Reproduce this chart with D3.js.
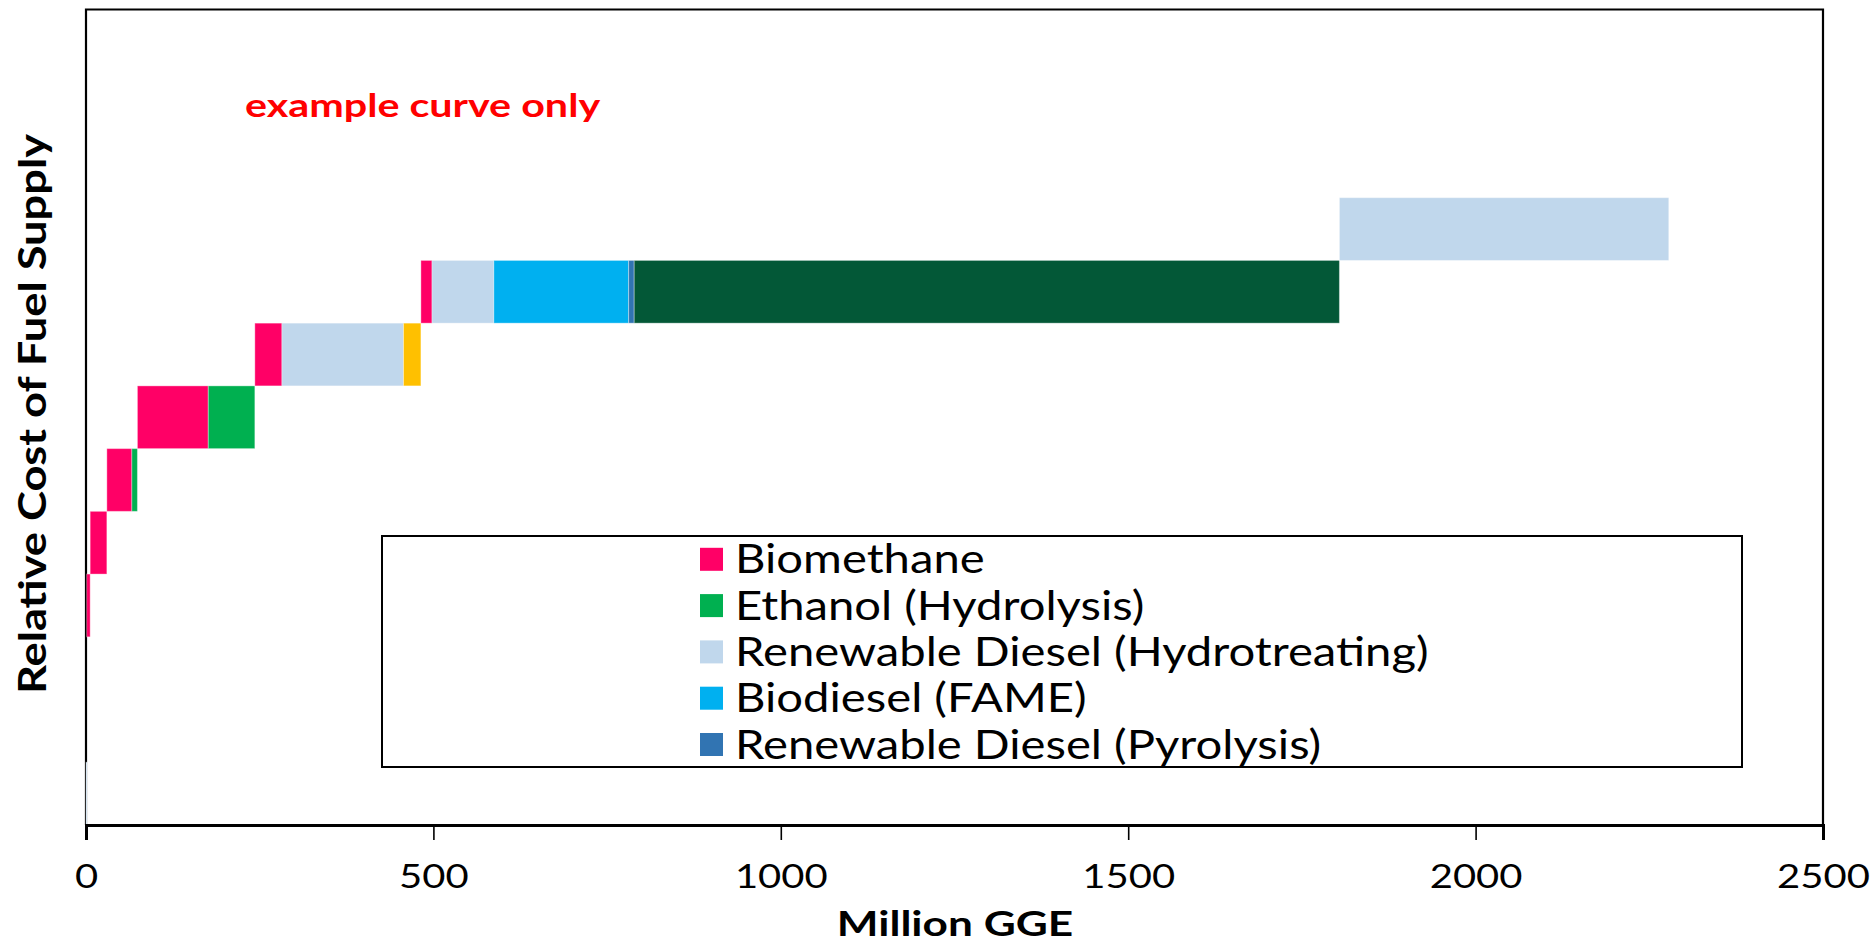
<!DOCTYPE html>
<html>
<head>
<meta charset="utf-8">
<script src="https://cdn.jsdelivr.net/npm/d3@7"></script>
<style>
  html, body { margin: 0; padding: 0; background: #fff; }
  svg { display: block; font-family: Lato, "Open Sans", sans-serif; }
</style>
</head>
<body>
<svg id="chart" width="1876" height="944"></svg>
<script>
// Supply curve segments, in merit order (left to right).
const segmentFuel = [
  "rdHydro", "biomethane", "biomethane", "biomethane", "ethanol",
  "biomethane", "ethanol", "biomethane", "rdHydro", "other1",
  "biomethane", "rdHydro", "biodiesel", "rdPyro", "other2", "rdHydro"
];
// Volume of each segment, million GGE
const segmentVolume = [1, 5, 24, 36, 8, 102, 67, 39, 175, 25, 16, 89, 194, 8, 1015, 474];
// Relative cost step of each segment (bar spans one step above this level)
const segmentCost = [0, 3, 4, 5, 5, 6, 6, 7, 7, 7, 8, 8, 8, 8, 8, 9];

const fuelKeys = ["biomethane", "ethanol", "rdHydro", "biodiesel", "rdPyro", "other1", "other2"];
const fuelColors = ["#FF0066", "#00B050", "#C0D7EC", "#00B0F0", "#3174B2", "#FFC000", "#035837"];

const legendKeys = ["biomethane", "ethanol", "rdHydro", "biodiesel", "rdPyro"];
const legendLabels = [
  "Biomethane",
  "Ethanol (Hydrolysis)",
  "Renewable Diesel (Hydrotreating)",
  "Biodiesel (FAME)",
  "Renewable Diesel (Pyrolysis)"
];

const xTicks = [0, 500, 1000, 1500, 2000, 2500];

// Cumulative positions along the volume axis
let acc = 0;
const segments = segmentVolume.map((v, i) => {
  const s = { fuel: segmentFuel[i], x0: acc, x1: acc + v, cost: segmentCost[i] };
  acc += v;
  return s;
});

const svg = d3.select("#chart");
const plotLeft = 86, plotRight = 1823, plotTop = 9.5, plotBottom = 825;

const x = d3.scaleLinear().domain([0, 2500]).range([plotLeft, plotRight]);
const y = d3.scaleLinear().domain([0, 13]).range([plotBottom, plotTop]);
const color = d3.scaleOrdinal().domain(fuelKeys).range(fuelColors);

// Widen text horizontally (wide geometric face look)
function widen(sel, factor) {
  sel.each(function () {
    const w = this.getComputedTextLength();
    d3.select(this)
      .attr("textLength", w * factor)
      .attr("lengthAdjust", "spacingAndGlyphs");
  });
}

// Plot frame (top, left, right)
svg.append("path")
  .attr("d", `M${plotLeft},${plotBottom} V${plotTop} H${plotRight} V${plotBottom}`)
  .attr("fill", "none")
  .attr("stroke", "#000")
  .attr("stroke-width", 2.2);

// Bars
svg.append("g").selectAll("rect")
  .data(segments)
  .join("rect")
  .attr("x", d => x(d.x0))
  .attr("width", d => Math.max(1, x(d.x1) - x(d.x0)))
  .attr("y", d => y(d.cost + 1))
  .attr("height", d => y(d.cost) - y(d.cost + 1))
  .attr("fill", d => color(d.fuel))
  .attr("stroke", "rgba(255,255,255,0.35)")
  .attr("stroke-width", 1);

// X axis
const xAxis = svg.append("g")
  .attr("transform", `translate(0,${plotBottom})`)
  .call(d3.axisBottom(x).tickValues(xTicks).tickSize(15).tickPadding(25).tickFormat(d3.format("d")));
xAxis.select(".domain").attr("stroke", "#000").attr("stroke-width", 3);
xAxis.selectAll(".tick line").attr("stroke", "#000").attr("stroke-width", 1.6);
xAxis.selectAll(".tick text")
  .attr("font-family", "Lato, sans-serif")
  .attr("font-size", 32)
  .attr("fill", "#000")
  .call(widen, 1.25);

// Axis titles
svg.append("text")
  .attr("x", 955)
  .attr("y", 936)
  .attr("text-anchor", "middle")
  .attr("font-size", 34)
  .attr("font-weight", "bold")
  .attr("fill", "#000")
  .text("Million GGE")
  .call(widen, 1.3);

svg.append("text")
  .attr("transform", "translate(46,414) rotate(-90)")
  .attr("text-anchor", "middle")
  .attr("font-size", 38)
  .attr("font-weight", "bold")
  .attr("fill", "#000")
  .text("Relative Cost of Fuel Supply")
  .call(widen, 1.19);

// Annotation
svg.append("text")
  .attr("x", 245)
  .attr("y", 117)
  .attr("font-size", 33)
  .attr("font-weight", "bold")
  .attr("fill", "#FF0000")
  .text("example curve only")
  .call(widen, 1.25);

// Legend
const legend = svg.append("g");
legend.append("rect")
  .attr("x", 382).attr("y", 536)
  .attr("width", 1742 - 382).attr("height", 767 - 536)
  .attr("fill", "#fff")
  .attr("stroke", "#000")
  .attr("stroke-width", 2);

const rows = legend.selectAll("g.row")
  .data(legendKeys)
  .join("g")
  .attr("class", "row")
  .attr("transform", (d, i) => `translate(700,${573.3 + i * 46.3})`);

rows.append("rect")
  .attr("x", 0).attr("y", -25.5)
  .attr("width", 23).attr("height", 23)
  .attr("fill", d => color(d));

rows.append("text")
  .attr("x", 35)
  .attr("y", 0)
  .attr("font-size", 40)
  .attr("fill", "#000")
  .text((d, i) => legendLabels[i])
  .call(widen, 1.18);
</script>
</body>
</html>
